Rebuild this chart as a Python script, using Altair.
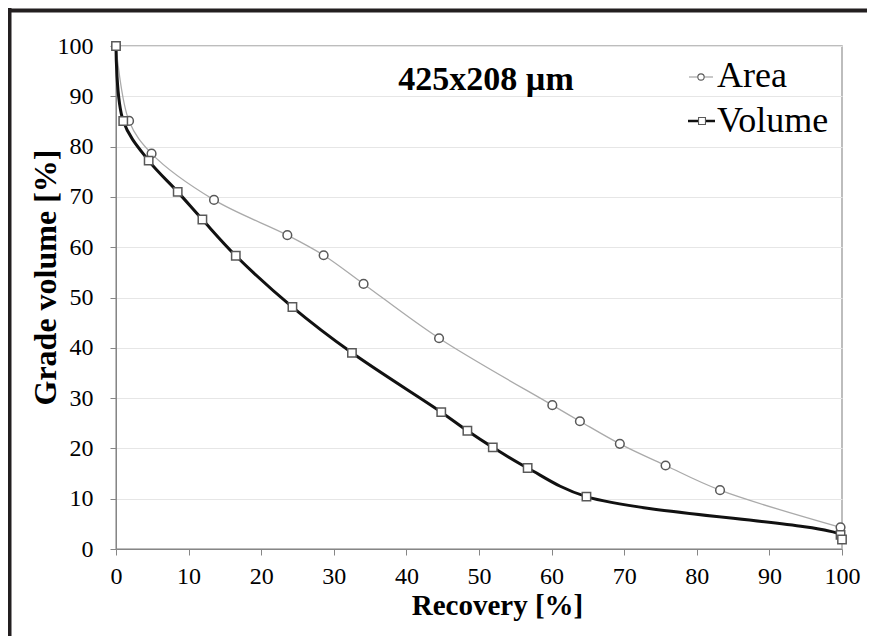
import altair as alt
import pandas as pd

# ---- data ----
area_recovery = [0, 1.8, 4.9, 13.5, 23.6, 28.6, 34.1, 44.5, 60.1, 63.9, 69.4, 75.7, 83.2, 99.8]
area_grade = [100, 85.1, 78.6, 69.4, 62.4, 58.4, 52.7, 41.9, 28.6, 25.4, 20.9, 16.6, 11.7, 4.3]

volume_recovery = [0, 1.0, 4.5, 8.5, 11.9, 16.5, 24.3, 32.5, 44.8, 48.4, 51.9, 56.7, 64.8, 99.8, 100]
volume_grade = [100, 85.1, 77.2, 71.0, 65.5, 58.3, 48.1, 39.0, 27.2, 23.5, 20.2, 16.1, 10.4, 2.8, 1.9]

x_ticks = [0, 10, 20, 30, 40, 50, 60, 70, 80, 90, 100]
y_ticks = [0, 10, 20, 30, 40, 50, 60, 70, 80, 90, 100]
series_names = ["Area", "Volume"]
chart_label = "425x208 µm"
x_title = "Recovery [%]"
y_title = "Grade volume [%]"

FONT = "Liberation Serif"
AXIS_GRAY = "#868686"

area_df = pd.DataFrame({"recovery": area_recovery, "grade": area_grade})
vol_df = pd.DataFrame({"recovery": volume_recovery, "grade": volume_grade})
one = pd.DataFrame({"k": [0]})

xs = alt.Scale(domain=[0, 100], nice=False, zero=False)
ys = alt.Scale(domain=[0, 100], nice=False)

xaxis = alt.Axis(values=x_ticks, title=x_title, grid=False, labelFont=FONT, labelFontSize=24,
                 labelColor="black", titleFont=FONT, titleFontSize=29, titleFontWeight="bold",
                 titleColor="black", domainColor=AXIS_GRAY, tickColor=AXIS_GRAY, tickSize=6,
                 labelPadding=9, titlePadding=3, labelFlush=False, titleX=381)
yaxis = alt.Axis(values=y_ticks, title=y_title, grid=True, gridColor="#e6e6e6", gridWidth=1,
                 labelFont=FONT, labelFontSize=24, labelColor="black", titleFont=FONT,
                 titleFontSize=32, titleFontWeight="bold", titleColor="black",
                 domainColor=AXIS_GRAY, tickColor=AXIS_GRAY, tickSize=6, labelPadding=17,
                 labelFlush=False, titleX=-71, titleY=231, titleBaseline="middle")

enc = dict(x=alt.X("recovery:Q", scale=xs, axis=xaxis), y=alt.Y("grade:Q", scale=ys, axis=yaxis))

area_line = alt.Chart(area_df).mark_line(color="#aaaaaa", strokeWidth=1.3,
                                         interpolate="catmull-rom").encode(**enc)
area_pts = alt.Chart(area_df).mark_point(shape="circle", filled=True, fill="white", stroke="#595959",
                                         strokeWidth=1.5, size=75, opacity=1).encode(**enc)
vol_line = alt.Chart(vol_df).mark_line(color="#111111", strokeWidth=3,
                                       interpolate="catmull-rom").encode(**enc)
vol_pts = alt.Chart(vol_df).mark_point(shape="square", filled=True, fill="white", stroke="#595959",
                                       strokeWidth=1.5, size=70, opacity=1).encode(**enc)

label = alt.Chart(one).mark_text(text=chart_label, font=FONT, fontSize=34, fontWeight="bold",
                                 color="black", align="center", baseline="alphabetic").encode(
    x=alt.value(370), y=alt.value(44))

# legend (manual, inside plot)
leg_area_line = alt.Chart(one).mark_rule(color="#aaaaaa", strokeWidth=1.3).encode(
    x=alt.value(573), x2=alt.value(597), y=alt.value(31))
leg_area_pt = alt.Chart(one).mark_point(shape="circle", filled=True, fill="white", stroke="#595959",
                                        strokeWidth=1.1, size=40, opacity=1).encode(
    x=alt.value(585), y=alt.value(31))
leg_area_txt = alt.Chart(one).mark_text(text=series_names[0], font=FONT, fontSize=36, color="black",
                                        align="left", baseline="alphabetic").encode(
    x=alt.value(601), y=alt.value(41))
leg_vol_line = alt.Chart(one).mark_rule(color="#111111", strokeWidth=2.5).encode(
    x=alt.value(572), x2=alt.value(599), y=alt.value(75))
leg_vol_pt = alt.Chart(one).mark_point(shape="square", filled=True, fill="white", stroke="#595959",
                                       strokeWidth=1.1, size=48, opacity=1).encode(
    x=alt.value(586), y=alt.value(75))
leg_vol_txt = alt.Chart(one).mark_text(text=series_names[1], font=FONT, fontSize=36, color="black",
                                       align="left", baseline="alphabetic").encode(
    x=alt.value(601), y=alt.value(86))

# outer frame (left and top edges, as in the reference)
frame_left = alt.Chart(one).mark_rule(color="#231f20", strokeWidth=4).encode(
    x=alt.value(-106.5), y=alt.value(-38), y2=alt.value(600))
frame_top = alt.Chart(one).mark_rule(color="#231f20", strokeWidth=4).encode(
    y=alt.value(-35.5), x=alt.value(-110), x2=alt.value(760))

chart = alt.layer(
    area_line, area_pts, vol_line, vol_pts, label,
    leg_area_line, leg_area_pt, leg_area_txt, leg_vol_line, leg_vol_pt, leg_vol_txt,
    frame_left, frame_top,
).properties(
    width=726, height=503,
    autosize=alt.AutoSizeParams(type="none"),
    padding={"left": 108, "top": 38, "right": 25, "bottom": 87},
    background="white",
).configure_view(stroke="#a8a8a8", strokeWidth=1.5)

chart.save("out.html", embed_options={"renderer": "svg", "actions": False})
